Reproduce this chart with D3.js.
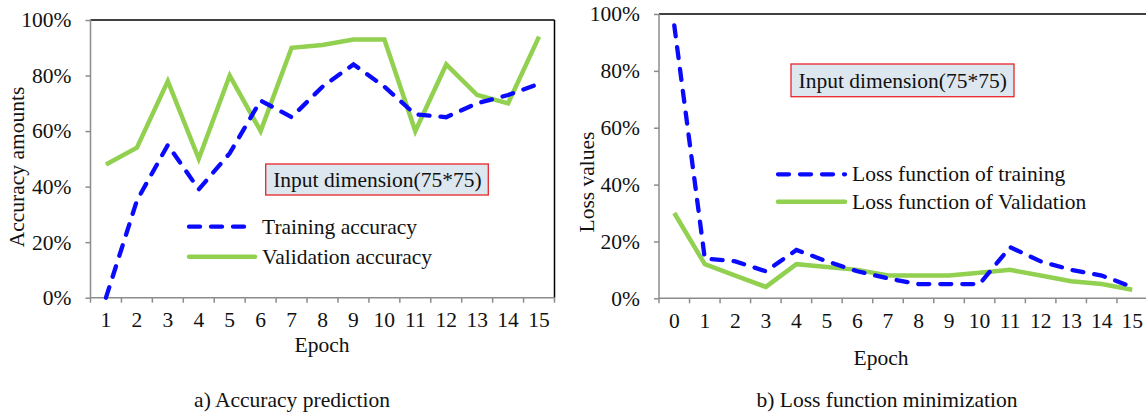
<!DOCTYPE html>
<html><head><meta charset="utf-8">
<script src="https://cdn.jsdelivr.net/npm/d3@7"></script>
<style>
html,body{margin:0;padding:0;background:#fff;}
svg text{font-family:"Liberation Serif","Times New Roman",serif;fill:#111;}
</style></head>
<body><svg id="c" width="1146" height="417"></svg>
<script>
// ---- data ----
const accEpochs = [1,2,3,4,5,6,7,8,9,10,11,12,13,14,15];
const trainAcc = [0,35,55,39,52,71,65,76,84,76,66,65,70,73,77];
const valAcc   = [48,54,78,50,80,60,90,91,93,93,60,84,73,70,94];
const lossEpochs = [0,1,2,3,4,5,6,7,8,9,10,11,12,13,14,15];
const trainLoss = [96,14,13,9.5,17,13,9.5,7,5,5,5,18,13,10,8,4];
const valLoss   = [30,12,8,4,12,11,10,8,8,8,9,10,8,6,5,3];
const yTicks = [0,20,40,60,80,100];
const annotation = "Input dimension(75*75)";
const accLegend = ["Training accuracy","Validation accuracy"];
const lossLegend = ["Loss function of training","Loss function of Validation"];

const FS = 21.5;
const BLUE = "#0a0aff", GREEN = "#92d050", AXIS = "#8c8c8c";
const svg = d3.select("#c");

function panel(o){
  const g = svg.append("g");
  const x = d3.scaleBand().domain(o.cats).range([o.x0,o.x1]).padding(0);
  const y = d3.scaleLinear().domain([0,100]).range([o.y0,o.y1]);
  const cx = d => x(d)+x.bandwidth()/2;
  // border top / right
  g.append("line").attr("x1",o.x0).attr("x2",o.x1).attr("y1",o.y1).attr("y2",o.y1)
    .attr("stroke","#000").attr("stroke-width",1.5);
  if(o.rightBorder) g.append("line").attr("x1",o.x1).attr("x2",o.x1).attr("y1",o.y1).attr("y2",o.y0)
    .attr("stroke","#000").attr("stroke-width",1.5);
  // y axis
  const ya = g.append("g").attr("transform",`translate(${o.x0},0)`)
    .call(d3.axisLeft(y).tickValues(yTicks).tickSize(5).tickPadding(14).tickFormat(d=>d+"%"));
  ya.selectAll("path,line").attr("stroke",AXIS).attr("stroke-width",1.5);
  ya.select("path").attr("d",`M0,${o.y0}V${o.y1}`);
  ya.selectAll("text").attr("font-size",FS).attr("font-family","Liberation Serif").attr("fill","#111");
  // x axis
  const xa = g.append("g").attr("transform",`translate(0,${o.y0})`)
    .call(d3.axisBottom(x).tickSize(0).tickPadding(14));
  xa.select("path").attr("d",`M${o.x0},0H${o.x1}`).attr("stroke",AXIS).attr("stroke-width",1.5);
  xa.selectAll("text").attr("font-size",FS).attr("font-family","Liberation Serif").attr("fill","#111");
  const bounds = o.cats.map(d=>x(d)).concat([o.x1]);
  xa.selectAll("line.b").data(bounds).enter().append("line").attr("class","b")
    .attr("x1",d=>d).attr("x2",d=>d).attr("y1",0).attr("y2",5).attr("stroke",AXIS).attr("stroke-width",1.5);
  // lines
  const valLine = d3.line().x((d,i)=>cx(o.cats[i])).y(d=>y(d));
  g.append("path").datum(o.val).attr("d",valLine).attr("fill","none")
    .attr("stroke",GREEN).attr("stroke-width",4.5).attr("stroke-linejoin","miter");
  g.append("path").datum(o.train).attr("d",valLine).attr("fill","none")
    .attr("stroke",BLUE).attr("stroke-width",4.3).attr("stroke-dasharray","11,11").attr("stroke-linecap","round");
  // annotation box
  g.append("rect").attr("x",o.box[0]).attr("y",o.box[1]).attr("width",o.box[2]).attr("height",o.box[3])
    .attr("fill","#dde7f0").attr("stroke","#e8262a").attr("stroke-width",1.3);
  g.append("text").attr("x",o.box[0]+7.5).attr("y",o.box[1]+o.box[3]-8.5).attr("font-size",FS).text(annotation);
  // legend
  const L = o.legend;
  [[L.y1,BLUE,true,o.legendText[0]],[L.y2,GREEN,false,o.legendText[1]]].forEach(([ly,col,dash,t])=>{
    const ln = g.append("line").attr("x1",L.x0).attr("x2",L.x1).attr("y1",ly).attr("y2",ly)
      .attr("stroke",col).attr("stroke-width",dash?4.3:4.5);
    if(dash) ln.attr("stroke-dasharray","11,11").attr("stroke-linecap","round");
    else ln.attr("stroke-linecap","round");
    g.append("text").attr("x",L.tx).attr("y",ly+7).attr("font-size",FS).text(t);
  });
  // axis titles
  g.append("text").attr("transform",`translate(${o.ylab[0]},${o.ylab[1]}) rotate(-90)`)
    .attr("text-anchor","middle").attr("font-size",FS).text(o.ylabText);
  g.append("text").attr("x",o.xlab[0]).attr("y",o.xlab[1]).attr("text-anchor","middle").attr("font-size",FS).text("Epoch");
  g.append("text").attr("x",o.cap[0]).attr("y",o.cap[1]).attr("text-anchor","middle").attr("font-size",FS).text(o.capText);
}

panel({cats:accEpochs, train:trainAcc, val:valAcc, x0:90.5, x1:554.5, y0:297.7, y1:20, rightBorder:true,
  box:[265.7,164,222.6,31], legend:{x0:189,x1:255,tx:262,y1:226.7,y2:256.7}, legendText:accLegend,
  ylab:[24,167], ylabText:"Accuracy amounts", xlab:[322,351.5], cap:[292,407], capText:"a) Accuracy prediction"});
panel({cats:lossEpochs, train:trainLoss, val:valLoss, x0:659, x1:1147.5, y0:298.3, y1:14, rightBorder:false,
  box:[791,64,223,32.7], legend:{x0:778,x1:845,tx:852,y1:174.3,y2:201.7}, legendText:lossLegend,
  ylab:[594,182], ylabText:"Loss values", xlab:[881,365], cap:[887,406.5], capText:"b) Loss function minimization"});
</script></body></html>
